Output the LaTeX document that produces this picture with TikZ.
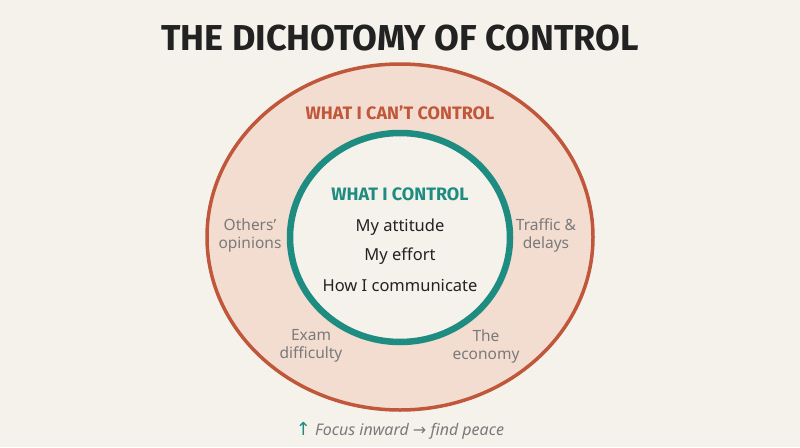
\documentclass[tikz,border=0pt]{standalone}
\usepackage{fontspec}
\usetikzlibrary{shapes.geometric}
\setmainfont{Noto Sans}
\newfontfamily\ttl{Fira Sans}
\newfontfamily\djv{DejaVu Sans}
\definecolor{bg}{HTML}{F5F2EC}
\definecolor{ring}{HTML}{F3DDD1}
\definecolor{rust}{HTML}{C0573A}
\definecolor{teal}{HTML}{1E8C80}
\definecolor{ink}{HTML}{222222}
\definecolor{soft}{HTML}{7A7A7A}
\tikzset{
  gray lbl/.style={text=soft,font=\fontsize{15.5}{18}\selectfont,align=center},
  item/.style={text=ink,font=\fontsize{16.5}{18}\selectfont},
}
\begin{document}
\begin{tikzpicture}[x=1pt,y=-1pt]
\fill[bg] (0,0) rectangle (800,447);
\useasboundingbox (0,0) rectangle (800,447);
\node[font=\ttl\fontsize{36}{40}\selectfont\bfseries,text=ink] (title) at (400,38) {THE DICHOTOMY OF CONTROL};
\node[draw=rust,line width=3.5pt,fill=ring,ellipse,minimum width=386pt,minimum height=346pt,inner sep=0pt] (outer) at (400,237) {};
\node[draw=teal,line width=6.5pt,fill=bg,ellipse,minimum width=220pt,minimum height=209pt,inner sep=0pt] (inner) at (400,237.5) {};
\node[font=\ttl\fontsize{18}{20}\selectfont\bfseries,text=rust] (cant) at (400,113) {WHAT I CAN’T CONTROL};
\node[font=\ttl\fontsize{18}{20}\selectfont\bfseries,text=teal] (can) at (400,194) {WHAT I CONTROL};
\node[item] (i1) at (400,227) {My attitude};
\node[item] (i2) at (400,256) {My effort};
\node[item] (i3) at (400,285) {How I communicate};
\node[gray lbl] (o1) at (250,235) {Others’\\opinions};
\node[gray lbl] (o2) at (546,235) {Traffic \&\\delays};
\node[gray lbl] (o3) at (311,346) {Exam\\difficulty};
\node[gray lbl] (o4) at (486,346) {The\\economy};
\node[text=soft,font=\fontsize{16}{18}\selectfont\itshape] (foot) at (400,431) {{\color{teal}\djv\fontsize{18}{18}\selectfont↑} Focus inward {\djv→} find peace};
\end{tikzpicture}
\end{document}
